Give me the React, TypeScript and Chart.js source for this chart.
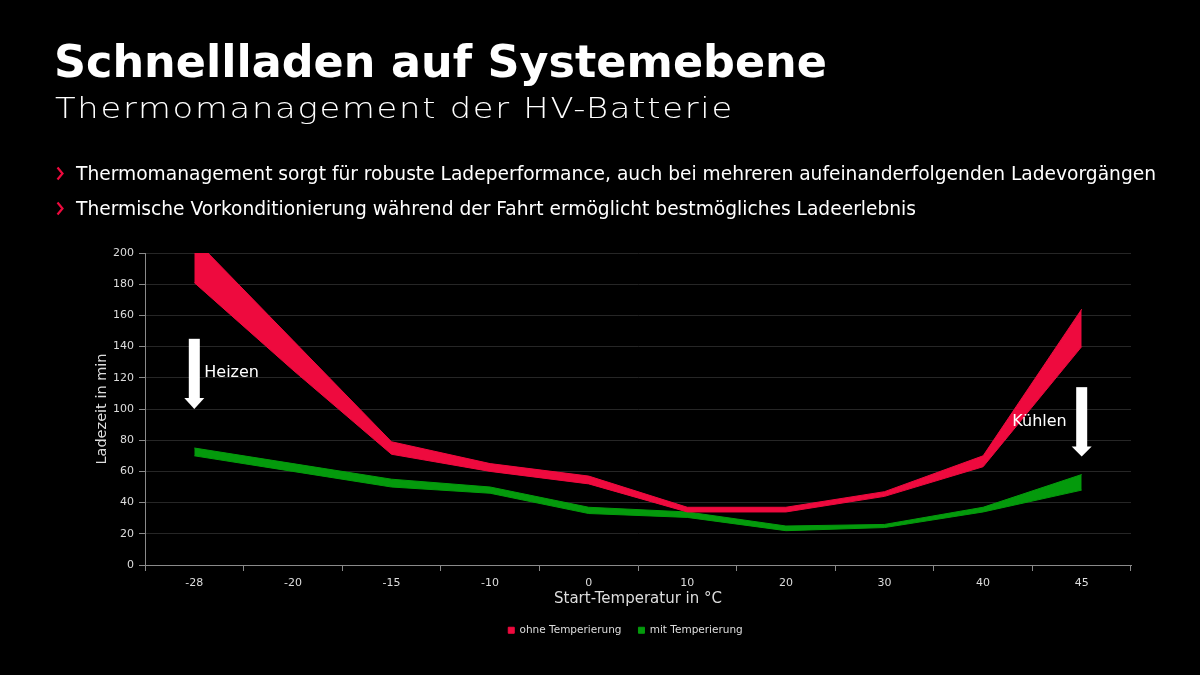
import React, { useEffect, useRef } from 'react';
import { Chart, registerables } from 'chart.js';

Chart.register(...registerables);

// Start temperatures in °C (category axis)
const temperatures = ['-28', '-20', '-15', '-10', '0', '10', '20', '30', '40', '45'];

// Charging time range in minutes without thermal conditioning
const ohneLower = [181, 125, 71, 60, 52, 34, 34, 44, 63, 140];
const ohneUpper = [209, 144, 79, 65, 57, 37, 37, 47, 70, 164];

// Charging time range in minutes with thermal conditioning
const mitLower = [70, 60, 50, 46, 33, 30.5, 22, 24, 34, 48];
const mitUpper = [75, 65, 55, 50, 37, 34, 25, 26, 37, 58];

const yMax = 200;
const yStep = 20;

// Annotation arrows: category index, start value, value where head begins, tip value
const heizenArrow = { index: 0, from: 145, head: 107, tip: 100, label: 'Heizen', labelValue: 123 };
const kuehlenArrow = { index: 9, from: 114, head: 76, tip: 69.5, label: 'Kühlen', labelValue: 91.5 };

const RED = '#ee0a3e';
const GREEN = '#049a0c';
const FONT = "'DejaVu Sans', sans-serif";

const bullets = [
  'Thermomanagement sorgt für robuste Ladeperformance, auch bei mehreren aufeinanderfolgenden Ladevorgängen',
  'Thermische Vorkonditionierung während der Fahrt ermöglicht bestmögliches Ladeerlebnis',
];

const arrowPlugin = {
  id: 'thermoArrows',
  afterDatasetsDraw(chart: any) {
    const { ctx, scales } = chart;
    const x = scales.x;
    const y = scales.y;
    const drawArrow = (a: typeof heizenArrow, labelSide: 'right' | 'left') => {
      const cx = x.getPixelForValue(a.index);
      const yTop = y.getPixelForValue(a.from);
      const yHead = y.getPixelForValue(a.head);
      const yTip = y.getPixelForValue(a.tip);
      ctx.save();
      ctx.fillStyle = '#ffffff';
      ctx.fillRect(cx - 5.5, yTop, 11, yHead - yTop + 1);
      ctx.beginPath();
      ctx.moveTo(cx - 10, yHead);
      ctx.lineTo(cx + 10, yHead);
      ctx.lineTo(cx, yTip);
      ctx.closePath();
      ctx.fill();
      ctx.font = `16px ${FONT}`;
      ctx.textBaseline = 'middle';
      const ly = y.getPixelForValue(a.labelValue);
      if (labelSide === 'right') {
        ctx.textAlign = 'left';
        ctx.fillText(a.label, cx + 10, ly);
      } else {
        ctx.textAlign = 'right';
        ctx.fillText(a.label, cx - 15, ly);
      }
      ctx.restore();
    };
    drawArrow(heizenArrow, 'right');
    drawArrow(kuehlenArrow, 'left');
  },
};

// Nudges the bottom legend so it sits centred under the slide rather than the layout box
const legendShift = {
  id: 'legendShift',
  afterLayout(chart: any) {
    const legend = chart.legend;
    if (legend) {
      legend.left += 13;
      legend.right += 13;
    }
  },
};

function ChargingChart() {
  const canvasRef = useRef<HTMLCanvasElement | null>(null);

  useEffect(() => {
    const canvas = canvasRef.current;
    if (!canvas) return;
    const band = (data: number[], color: string, label: string, fill: any) => ({
      label,
      data,
      borderColor: color,
      backgroundColor: color,
      borderWidth: 1,
      pointRadius: 0,
      tension: 0,
      fill,
    });
    const chart = new Chart(canvas, {
      type: 'line',
      data: {
        labels: temperatures,
        datasets: [
          band(ohneLower, RED, 'ohne-unten', false),
          band(ohneUpper, RED, 'ohne Temperierung', '-1'),
          band(mitLower, GREEN, 'mit-unten', false),
          band(mitUpper, GREEN, 'mit Temperierung', '-1'),
        ],
      },
      options: {
        responsive: false,
        animation: false,
        layout: { padding: { left: 94, right: 69, top: 253, bottom: 29.5 } },
        plugins: {
          tooltip: { enabled: false },
          legend: {
            position: 'bottom',
            labels: {
              color: '#dddddd',
              font: { family: FONT, size: 10.5 },
              boxWidth: 6,
              boxHeight: 6,
              padding: 17,
              filter: (item: any) => item.text === 'ohne Temperierung' || item.text === 'mit Temperierung',
            },
          },
        },
        scales: {
          x: {
            type: 'category',
            offset: true,
            grid: {
              offset: true,
              drawOnChartArea: false,
              tickLength: 6,
              tickColor: '#8a8a8a',
              color: '#8a8a8a',
            },
            border: { color: '#8a8a8a', width: 1 },
            ticks: { color: '#dddddd', font: { family: FONT, size: 11 }, padding: 6, maxRotation: 0 },
            title: {
              display: true,
              text: 'Start-Temperatur in °C',
              color: '#dddddd',
              font: { family: FONT, size: 15 },
              padding: { top: 0, bottom: 0 },
            },
            afterFit: (scale: any) => {
              scale.height = 43;
            },
          },
          y: {
            min: 0,
            max: yMax,
            grid: {
              color: '#262626',
              tickColor: '#8a8a8a',
              tickLength: 6,
            },
            border: { color: '#8a8a8a', width: 1 },
            ticks: { stepSize: yStep, color: '#dddddd', font: { family: FONT, size: 11 }, padding: 5 },
            title: {
              display: true,
              text: 'Ladezeit in min',
              color: '#dddddd',
              font: { family: FONT, size: 14.5 },
              padding: { top: 0, bottom: 0 },
            },
            afterFit: (scale: any) => {
              scale.width = 51;
            },
          },
        },
      },
      plugins: [arrowPlugin, legendShift],
    } as any);
    return () => chart.destroy();
  }, []);

  return (
    <canvas
      ref={canvasRef}
      width={1200}
      height={675}
      style={{ position: 'absolute', left: 0, top: 0, width: 1200, height: 675 }}
    />
  );
}

function Chevron({ top }: { top: number }) {
  return (
    <svg
      width={10}
      height={16}
      style={{ position: 'absolute', left: 56, top }}
      viewBox="0 0 10 16"
    >
      <polyline points="1.5,1.5 6.5,7.5 1.5,13.5" fill="none" stroke={RED} strokeWidth={2.2} />
    </svg>
  );
}

export default function App() {
  return (
    <div
      style={{
        position: 'fixed',
        left: 0,
        top: 0,
        width: 1200,
        height: 675,
        background: '#000000',
        overflow: 'hidden',
        color: '#ffffff',
        fontFamily: FONT,
      }}
    >
      <ChargingChart />
      <div
        style={{
          position: 'absolute',
          left: 54,
          top: 40,
          fontSize: 44.5,
          lineHeight: '44px',
          fontWeight: 700,
          whiteSpace: 'nowrap',
        }}
      >
        Schnellladen auf Systemebene
      </div>
      <div
        style={{
          position: 'absolute',
          left: 55,
          top: 94,
          fontSize: 29,
          lineHeight: '29px',
          fontWeight: 200,
          letterSpacing: 1.5,
          whiteSpace: 'nowrap',
          transform: 'scaleX(1.163)',
          transformOrigin: 'left top',
        }}
      >
        Thermomanagement der HV-Batterie
      </div>
      {bullets.map((text, i) => (
        <React.Fragment key={i}>
          <Chevron top={166 + i * 35} />
          <div
            style={{
              position: 'absolute',
              left: 76,
              top: 163 + i * 35,
              fontSize: 18.65,
              lineHeight: '22px',
              whiteSpace: 'nowrap',
            }}
          >
            {text}
          </div>
        </React.Fragment>
      ))}
    </div>
  );
}
